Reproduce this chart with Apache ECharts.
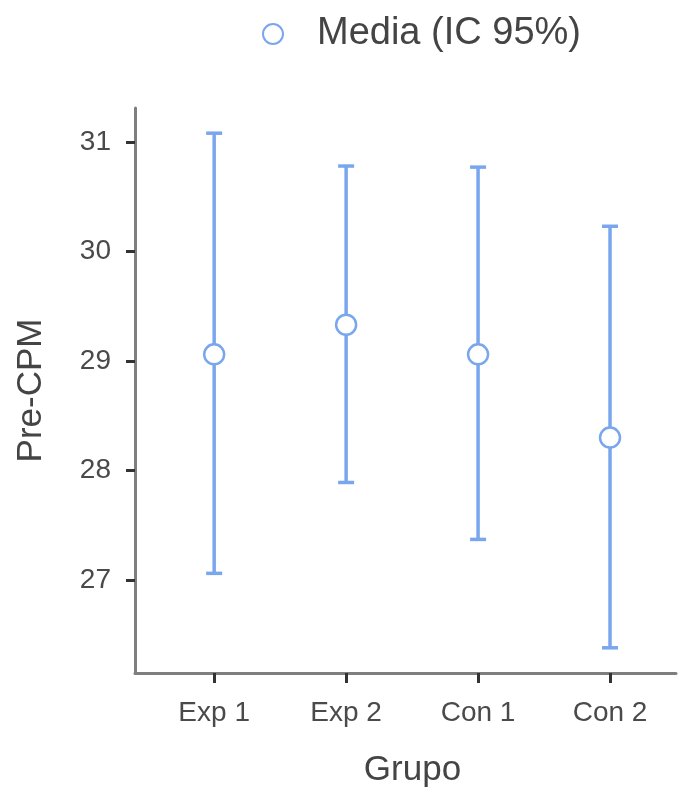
<!DOCTYPE html>
<html>
<head>
<meta charset="utf-8">
<script src="https://cdn.jsdelivr.net/npm/echarts@6/dist/echarts.min.js"></script>
<style>
  html, body { margin: 0; padding: 0; background: #fff; }
  #chart { width: 678px; height: 788px; }
</style>
</head>
<body>
<div id="chart"></div>
<script>
// groups on the x axis
const groups = ["Exp 1", "Exp 2", "Con 1", "Con 2"];
// mean and 95% CI bounds
const means = [29.06, 29.33, 29.06, 28.30];
const lower = [27.06, 27.89, 27.37, 26.38];
const upper = [31.08, 30.78, 30.77, 30.23];
// y tick values
const yTicks = [27, 28, 29, 30, 31];
const xTicks = groups.map((g, i) => i);

const BLUE = "#7aa6ee";
const FONT = "Liberation Sans";

const chart = echarts.init(document.getElementById("chart"), null, { renderer: "canvas" });

chart.setOption({
  animation: false,
  textStyle: { fontFamily: FONT },
  legend: {
    data: ["Media (IC 95%)"],
    left: 257,
    top: 10,
    itemWidth: 78,
    itemHeight: 20,
    textStyle: { fontSize: 38, color: "#444", fontFamily: FONT },
  },
  // keep grid fixed, don't shrink for axis names
  grid: { left: 135, right: 2, top: 108, bottom: 115, outerBoundsMode: "none" },
  xAxis: {
    type: "value",
    min: -0.6,
    max: 3.5,
    name: "Grupo",
    nameLocation: "middle",
    nameGap: 80,
    nameTextStyle: { fontSize: 35, color: "#444", padding: [0, 0, 0, 14] },
    axisLine: { show: true, onZero: false, lineStyle: { color: "#7f7f7f", width: 3 } },
    axisTick: { show: true, customValues: xTicks, length: 10, lineStyle: { color: "#333", width: 3 } },
    axisLabel: {
      customValues: xTicks,
      formatter: (v) => groups[v],
      fontSize: 28,
      color: "#4a4a4a",
      margin: 26,
    },
    splitLine: { show: false },
  },
  yAxis: {
    type: "value",
    min: 26.15,
    max: 31.31,
    name: "Pre-CPM",
    nameLocation: "middle",
    nameGap: 86,
    nameTextStyle: { fontSize: 35, color: "#444" },
    axisLine: { show: true, onZero: false, lineStyle: { color: "#7f7f7f", width: 3 } },
    axisTick: { show: true, customValues: yTicks, length: 9, lineStyle: { color: "#333", width: 3 } },
    axisLabel: { customValues: yTicks, fontSize: 28, color: "#4a4a4a", margin: 24 },
    splitLine: { show: false },
  },
  series: [
    // error bars: vertical line with caps at both ends
    {
      type: "custom",
      z: 1,
      data: groups.map((g, i) => [i, lower[i], upper[i]]),
      renderItem: (params, api) => {
        const x = api.value(0);
        const lo = api.coord([x, api.value(1)]);
        const hi = api.coord([x, api.value(2)]);
        const cap = 8;
        const style = { stroke: BLUE, lineWidth: 3.5, fill: null };
        return {
          type: "group",
          children: [
            { type: "line", shape: { x1: lo[0], y1: lo[1], x2: hi[0], y2: hi[1] }, style },
            { type: "line", shape: { x1: lo[0] - cap, y1: lo[1], x2: lo[0] + cap, y2: lo[1] }, style },
            { type: "line", shape: { x1: hi[0] - cap, y1: hi[1], x2: hi[0] + cap, y2: hi[1] }, style },
          ],
        };
      },
    },
    // means
    {
      name: "Media (IC 95%)",
      type: "scatter",
      z: 2,
      symbol: "circle",
      symbolSize: 20,
      itemStyle: { color: "#fff", borderColor: BLUE, borderWidth: 2.5, opacity: 1 },
      data: groups.map((g, i) => [i, means[i]]),
    },
  ],
});
</script>
</body>
</html>
